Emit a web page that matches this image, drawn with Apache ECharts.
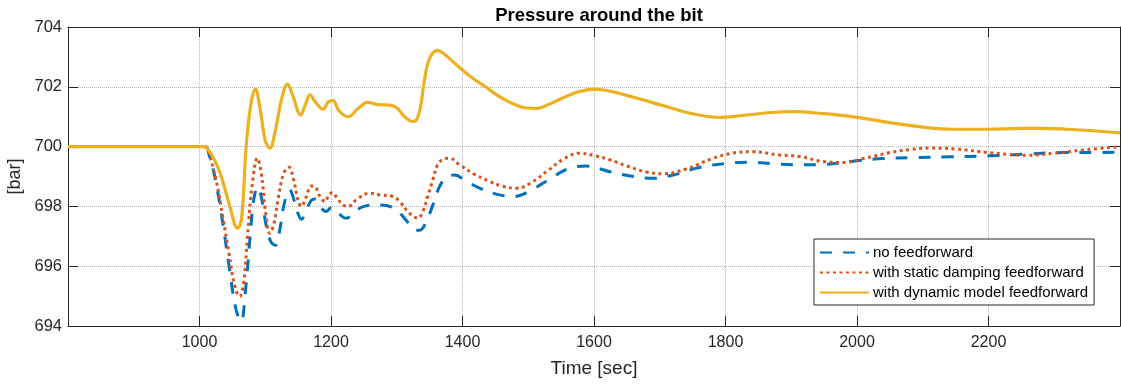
<!DOCTYPE html>
<html>
<head>
<meta charset="utf-8">
<title>Pressure around the bit</title>
<script src="https://cdn.jsdelivr.net/npm/echarts@6/dist/echarts.min.js"></script>
<style>
  html, body { margin: 0; padding: 0; background: #fff; }
  #myChart { width: 1121px; height: 385px; }
</style>
</head>
<body>
<div id="myChart"></div>
<script>
  // no feedforward
  var timeNone = [800, 1008, 1015, 1025, 1035, 1045, 1055, 1063, 1070, 1077, 1083, 1089, 1095, 1102, 1109, 1116, 1122, 1129, 1137, 1144, 1150, 1155, 1162, 1170, 1176, 1185, 1193, 1200, 1207, 1215, 1223, 1235, 1250, 1274, 1295, 1312, 1325, 1335, 1345, 1355, 1365, 1375, 1388, 1405, 1426, 1450, 1477, 1505, 1535, 1560, 1588, 1624, 1660, 1690, 1720, 1760, 1802, 1837, 1875, 1913, 1948, 2000, 2040, 2085, 2140, 2200, 2260, 2313, 2360, 2400];
  var pressNone = [700, 700, 699.7, 698.8, 697.5, 696.0, 694.6, 694.15, 695.2, 697.0, 698.3, 698.65, 698.2, 697.3, 696.8, 696.7, 697.2, 698.1, 698.55, 698.2, 697.75, 697.57, 697.85, 698.2, 698.25, 697.95, 697.83, 697.95, 697.9, 697.7, 697.6, 697.8, 698.0, 698.05, 697.95, 697.6, 697.25, 697.2, 697.5, 698.05, 698.66, 698.95, 699.05, 698.85, 698.61, 698.42, 698.33, 698.55, 698.95, 699.25, 699.35, 699.16, 699.0, 698.94, 699.05, 699.3, 699.44, 699.48, 699.42, 699.39, 699.4, 699.53, 699.6, 699.63, 699.66, 699.69, 699.75, 699.8, 699.8, 699.82];

  // with static damping feedforward
  var timeStatic = [800, 1008, 1015, 1025, 1035, 1045, 1053, 1061, 1067, 1073, 1080, 1088, 1094, 1100, 1107, 1113, 1120, 1128, 1136, 1143, 1150, 1155, 1162, 1170, 1176, 1184, 1191, 1197, 1202, 1210, 1218, 1226, 1240, 1259, 1275, 1294, 1305, 1318, 1332, 1340, 1347, 1355, 1362, 1370, 1380, 1395, 1416, 1440, 1460, 1482, 1505, 1530, 1555, 1578, 1600, 1624, 1650, 1680, 1705, 1740, 1780, 1810, 1841, 1882, 1913, 1948, 1979, 2010, 2050, 2080, 2111, 2150, 2200, 2230, 2258, 2300, 2350, 2400];
  var pressStatic = [700, 700, 699.7, 698.9, 697.7, 696.4, 695.4, 694.99, 695.4, 697.0, 698.7, 699.61, 699.1, 697.9, 697.1, 697.4, 698.3, 699.1, 699.31, 698.9, 698.2, 698.0, 698.3, 698.68, 698.65, 698.3, 698.16, 698.4, 698.46, 698.25, 698.05, 698.0, 698.25, 698.44, 698.38, 698.33, 698.15, 697.8, 697.61, 697.85, 698.33, 698.9, 699.39, 699.57, 699.61, 699.4, 699.1, 698.85, 698.68, 698.61, 698.8, 699.2, 699.6, 699.78, 699.7, 699.56, 699.35, 699.15, 699.09, 699.25, 699.6, 699.78, 699.83, 699.72, 699.67, 699.5, 699.47, 699.6, 699.8, 699.9, 699.95, 699.92, 699.8, 699.74, 699.71, 699.78, 699.9, 700.0];

  // with dynamic model feedforward
  var timeDynamic = [800, 1005, 1015, 1030, 1045, 1058, 1064, 1071, 1078, 1085, 1092, 1100, 1107, 1115, 1125, 1134, 1142, 1154, 1161, 1168, 1176, 1188, 1196, 1203, 1212, 1226, 1240, 1256, 1272, 1289, 1300, 1312, 1324, 1330, 1336, 1342, 1350, 1362, 1372, 1385, 1400, 1416, 1435, 1452, 1475, 1495, 1513, 1535, 1560, 1580, 1599, 1625, 1660, 1710, 1750, 1791, 1830, 1870, 1902, 1950, 2000, 2050, 2100, 2146, 2200, 2250, 2278, 2320, 2360, 2400];
  var pressDynamic = [700, 700, 699.85, 699.2, 698.1, 697.27, 697.6, 700, 701.4, 701.92, 701.3, 700.2, 699.95, 700.5, 701.6, 702.09, 701.7, 701.06, 701.4, 701.73, 701.5, 701.25, 701.5, 701.54, 701.2, 701.0, 701.25, 701.48, 701.4, 701.39, 701.3, 701.0, 700.84, 700.9, 701.3, 702.2, 702.95, 703.22, 703.1, 702.85, 702.56, 702.28, 702.0, 701.73, 701.45, 701.3, 701.28, 701.45, 701.7, 701.85, 701.92, 701.85, 701.65, 701.34, 701.1, 700.98, 701.05, 701.14, 701.17, 701.1, 700.98, 700.8, 700.65, 700.58, 700.58, 700.61, 700.61, 700.58, 700.53, 700.46];

  var xTicks = [1000, 1200, 1400, 1600, 1800, 2000, 2200];
  var legendNames = ['no feedforward', 'with static damping feedforward', 'with dynamic model feedforward'];

  function pairs(t, p) {
    return t.map(function (v, i) { return [v, p[i]]; });
  }

  var axisColor = '#262626';
  var font = 'Liberation Sans';
  var gridLine = { show: true, lineStyle: { color: '#b4b4b4', type: [1, 1], width: 1 } };

  var option = {
    animation: false,
    backgroundColor: '#fff',
    title: {
      text: 'Pressure around the bit',
      left: 594,
      textAlign: 'center',
      top: 1,
      textStyle: { fontFamily: font, fontSize: 18.5, fontWeight: 'bold', color: '#000' }
    },
    legend: {
      orient: 'vertical',
      left: 814,
      top: 239,
      padding: [6, 6, 5, 5],
      itemWidth: 49,
      itemHeight: 12,
      itemGap: 5,
      backgroundColor: '#fff',
      borderColor: axisColor,
      borderWidth: 1,
      itemStyle: { opacity: 0 },
      textStyle: { fontFamily: font, fontSize: 15, color: '#000', padding: [0, 0, 0, -1] },
      data: legendNames
    },
    grid: { left: 68, top: 27, right: 1, bottom: 59, outerBoundsMode: 'none' },
    xAxis: [{
      type: 'value',
      min: 800,
      max: 2400,
      interval: 200,
      name: 'Time [sec]',
      nameLocation: 'middle',
      nameGap: 33,
      nameTextStyle: { fontFamily: font, fontSize: 19, color: axisColor },
      axisLine: { show: true, lineStyle: { color: axisColor, width: 1 } },
      axisTick: { show: true, inside: true, length: 10, lineStyle: { color: axisColor } },
      axisLabel: {
        showMinLabel: false, showMaxLabel: false, margin: 9,
        fontFamily: font, fontSize: 16, color: axisColor,
        formatter: function (v) { return xTicks.indexOf(v) >= 0 ? String(v) : ''; }
      },
      splitLine: gridLine
    }, {
      type: 'value',
      position: 'top',
      min: 800,
      max: 2400,
      interval: 200,
      axisLine: { show: true, lineStyle: { color: axisColor, width: 1 } },
      axisTick: { show: true, inside: true, length: 10, lineStyle: { color: axisColor } },
      axisLabel: { show: false },
      splitLine: { show: false }
    }],
    yAxis: [{
      type: 'value',
      min: 694,
      max: 704,
      interval: 2,
      name: '[bar]',
      nameLocation: 'middle',
      nameGap: 42,
      nameTextStyle: { fontFamily: font, fontSize: 18, color: axisColor },
      axisLine: { show: true, lineStyle: { color: axisColor, width: 1 } },
      axisTick: { show: true, inside: true, length: 10, lineStyle: { color: axisColor } },
      axisLabel: { margin: 6, fontFamily: font, fontSize: 16.5, color: axisColor },
      splitLine: gridLine
    }, {
      type: 'value',
      position: 'right',
      min: 694,
      max: 704,
      interval: 2,
      axisLine: { show: true, lineStyle: { color: axisColor, width: 1 } },
      axisTick: { show: true, inside: true, length: 10, lineStyle: { color: axisColor } },
      axisLabel: { show: false },
      splitLine: { show: false }
    }],
    series: [
      {
        name: legendNames[0],
        type: 'line',
        data: pairs(timeNone, pressNone),
        smooth: 0.4,
        symbol: 'none',
        color: '#0072BD',
        lineStyle: { color: '#0072BD', width: 3, type: [12, 11] },
        z: 3
      },
      {
        name: legendNames[1],
        type: 'line',
        data: pairs(timeStatic, pressStatic),
        smooth: 0.4,
        symbol: 'none',
        color: '#D95319',
        lineStyle: { color: '#D95319', width: 3, type: [3, 3.5] },
        z: 4
      },
      {
        name: legendNames[2],
        type: 'line',
        data: pairs(timeDynamic, pressDynamic),
        smooth: 0.4,
        symbol: 'none',
        color: '#EDB120',
        lineStyle: { color: '#EDB120', width: 3.2 },
        z: 5
      }
    ]
  };

  var myChart = echarts.init(document.getElementById('myChart'));
  myChart.setOption(option);
</script>
</body>
</html>
